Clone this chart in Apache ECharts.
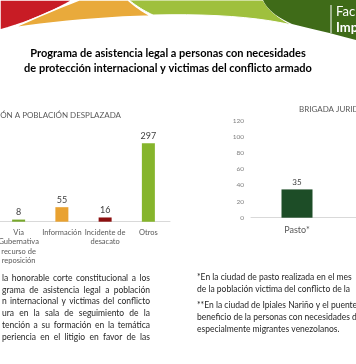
<!DOCTYPE html>
<html><head><meta charset="utf-8">
<script src="https://cdn.jsdelivr.net/npm/echarts@6/dist/echarts.min.js"></script>
<style>html,body{margin:0;padding:0;background:#fff;overflow:hidden}#c{width:356px;height:364px}</style>
</head><body><div id="c"></div>
<script>
// ---- data ----
const titleLines = ['Programa de asistencia legal a personas con necesidades', 'de protección internacional y victimas del conflicto armado'];
const leftTitle = 'ATENCIÓN A POBLACIÓN DESPLAZADA';
const leftCategories = ['Via\nGubernativa\nrecurso de\nreposición', 'Información', 'Incidente de\ndesacato', 'Otros'];
const leftValues = [8, 55, 16, 297];
const leftColors = ['#78a82c', '#e9a231', '#8c0f0f', '#86b52c'];
const rightTitle = 'BRIGADA JURIDICA';
const rightCategories = ['Pasto*', 'Ipiales**'];
const rightValues = [35, null];
const rightTickMin = 0, rightTickMax = 120, rightTickStep = 20;
const leftParagraph = [
  'la honorable corte constitucional a los',
  'grama de asistencia legal a población',
  'n internacional y victimas del conflicto',
  'ura en la sala de seguimiento de la',
  'tención a su formación en la temática',
  'periencia en el litigio en favor de las'
];
const rightParagraph = [
  ['*En la ciudad de pasto realizada en el mes', 'de la población victima del conflicto de la'],
  ['**En la ciudad de Ipiales Nariño y el puente', 'beneficio de la personas con necesidades de', 'especialmente migrantes venezolanos.']
];
const headerWords = ['Fac', 'Imp'];

// ---- drawing ----
const FONT = 'Lato, "Open Sans", sans-serif';
const chart = echarts.init(document.getElementById('c'), null, {renderer: 'canvas'});
const g = [];

function shapePts(start, segs) {
  const pts = [start];
  let cur = start;
  segs.forEach(s => {
    if (s[0] === 'L') { pts.push(s[1]); cur = s[1]; }
    else {
      const c = s[1], e = s[2];
      for (let t = 0.1; t <= 1.0001; t += 0.1) {
        const u = 1 - t;
        pts.push([u * u * cur[0] + 2 * u * t * c[0] + t * t * e[0], u * u * cur[1] + 2 * u * t * c[1] + t * t * e[1]]);
      }
      cur = e;
    }
  });
  return pts;
}
g.push({type: 'polygon', shape: {points: shapePts([0, 0], [['L', [73, 0]], ['Q', [40, 19], [0, 30]]])}, style: {fill: '#c81c25', stroke: '#fff', lineWidth: 1.5}});
g.push({type: 'polygon', shape: {points: shapePts([79, 0], [['L', [128, 0]], ['Q', [138, 9], [151, 16]], ['Q', [80, 18], [13, 28]], ['Q', [48, 12], [79, 0]]])}, style: {fill: '#e9aa3b', stroke: '#fff', lineWidth: 1.5}});
g.push({type: 'polygon', shape: {points: shapePts([129, 0], [['L', [263, 0]], ['Q', [270, 14], [292, 25]], ['Q', [240, 13], [153, 15]], ['Q', [140, 9], [129, 0]]])}, style: {fill: '#9fc03d', stroke: '#fff', lineWidth: 1}});
g.push({type: 'polygon', shape: {points: shapePts([263, 0], [['L', [356, 0]], ['L', [356, 40]], ['Q', [322, 31], [292, 24]], ['Q', [268, 13], [263, 0]]])}, style: {fill: '#3f6b18'}});
g.push({type: 'line', shape: {x1: 331, y1: 5, x2: 331, y2: 33}, style: {stroke: '#fff', lineWidth: 1}});
g.push({type: 'text', x: 336, y: 12, style: {text: headerWords[0], font: '13px ' + FONT, fill: '#fff', verticalAlign: 'middle'}});
g.push({type: 'text', x: 336, y: 28, style: {text: headerWords[1], font: 'bold 13px ' + FONT, fill: '#fff', verticalAlign: 'middle'}});

titleLines.forEach((t, i) => g.push({type: 'text', x: 168, y: 53 + i * 15, style: {text: t, font: 'bold 11px ' + FONT, fill: '#000', align: 'center', verticalAlign: 'middle'}}));

g.push({type: 'text', x: 121, y: 115, style: {text: leftTitle, font: '8px ' + FONT, fill: '#595959', align: 'right', verticalAlign: 'middle'}});
g.push({type: 'text', x: 299, y: 109, style: {text: rightTitle, font: '8px ' + FONT, fill: '#595959', align: 'left', verticalAlign: 'middle'}});

const ctx = document.createElement('canvas').getContext('2d');
const pFont = '8.5px ' + FONT;
ctx.font = pFont;
leftParagraph.forEach((line, i) => {
  const words = line.split(' ');
  const widths = words.map(w => ctx.measureText(w).width);
  const total = widths.reduce((a, b) => a + b, 0);
  const x0 = 2, x1 = 150;
  const gap = (x1 - x0 - total) / (words.length - 1);
  let x = x0;
  words.forEach((w, k) => {
    g.push({type: 'text', x: x, y: 278 + i * 11.8, style: {text: w, font: pFont, fill: '#262626', verticalAlign: 'middle'}});
    x += widths[k] + gap;
  });
});
let ry = 277;
rightParagraph.forEach(para => {
  para.forEach(line => {
    g.push({type: 'text', x: 197, y: ry, style: {text: line, font: pFont, fill: '#262626', verticalAlign: 'middle'}});
    ry += 12;
  });
  ry += 4;
});

const leftScale = 78.4 / 297;
const leftMax = 350;
const leftBase = 221.7;

chart.setOption({
  animation: false,
  grid: [
    {left: -3, width: 173, top: leftBase - leftMax * leftScale, height: leftMax * leftScale, outerBoundsMode: 'none', containLabel: false},
    {left: 251, width: 184, top: 120.7, height: 97, outerBoundsMode: 'none', containLabel: false}
  ],
  xAxis: [
    {type: 'category', gridIndex: 0, data: leftCategories, axisLine: {lineStyle: {color: '#d9d9d9'}}, axisTick: {show: false},
     axisLabel: {interval: 0, margin: 6, fontSize: 7.5, lineHeight: 9.5, color: '#595959', fontFamily: FONT}},
    {type: 'category', gridIndex: 1, data: rightCategories, axisLine: {lineStyle: {color: '#d9d9d9'}}, axisTick: {show: false},
     axisLabel: {interval: 0, margin: 8, fontSize: 9, color: '#595959', fontFamily: FONT}}
  ],
  yAxis: [
    {type: 'value', gridIndex: 0, min: 0, max: leftMax, show: false},
    {type: 'value', gridIndex: 1, min: rightTickMin, max: rightTickMax, interval: rightTickStep,
     axisLine: {show: false}, axisTick: {show: false}, splitLine: {show: false},
     axisLabel: {margin: 7, fontSize: 6.5, color: '#808080', fontFamily: FONT}}
  ],
  series: [
    {type: 'bar', xAxisIndex: 0, yAxisIndex: 0, barWidth: 13,
     data: leftValues.map((v, i) => ({value: v, itemStyle: {color: leftColors[i]}})),
     label: {show: true, position: 'top', distance: 3, fontSize: 9, color: '#404040', fontFamily: FONT}},
    {type: 'bar', xAxisIndex: 1, yAxisIndex: 1, barWidth: 31,
     data: rightValues, itemStyle: {color: '#1d4d27'},
     label: {show: true, position: 'top', distance: 3, fontSize: 8, color: '#404040', fontFamily: FONT}}
  ],
  graphic: g
});
</script></body></html>
